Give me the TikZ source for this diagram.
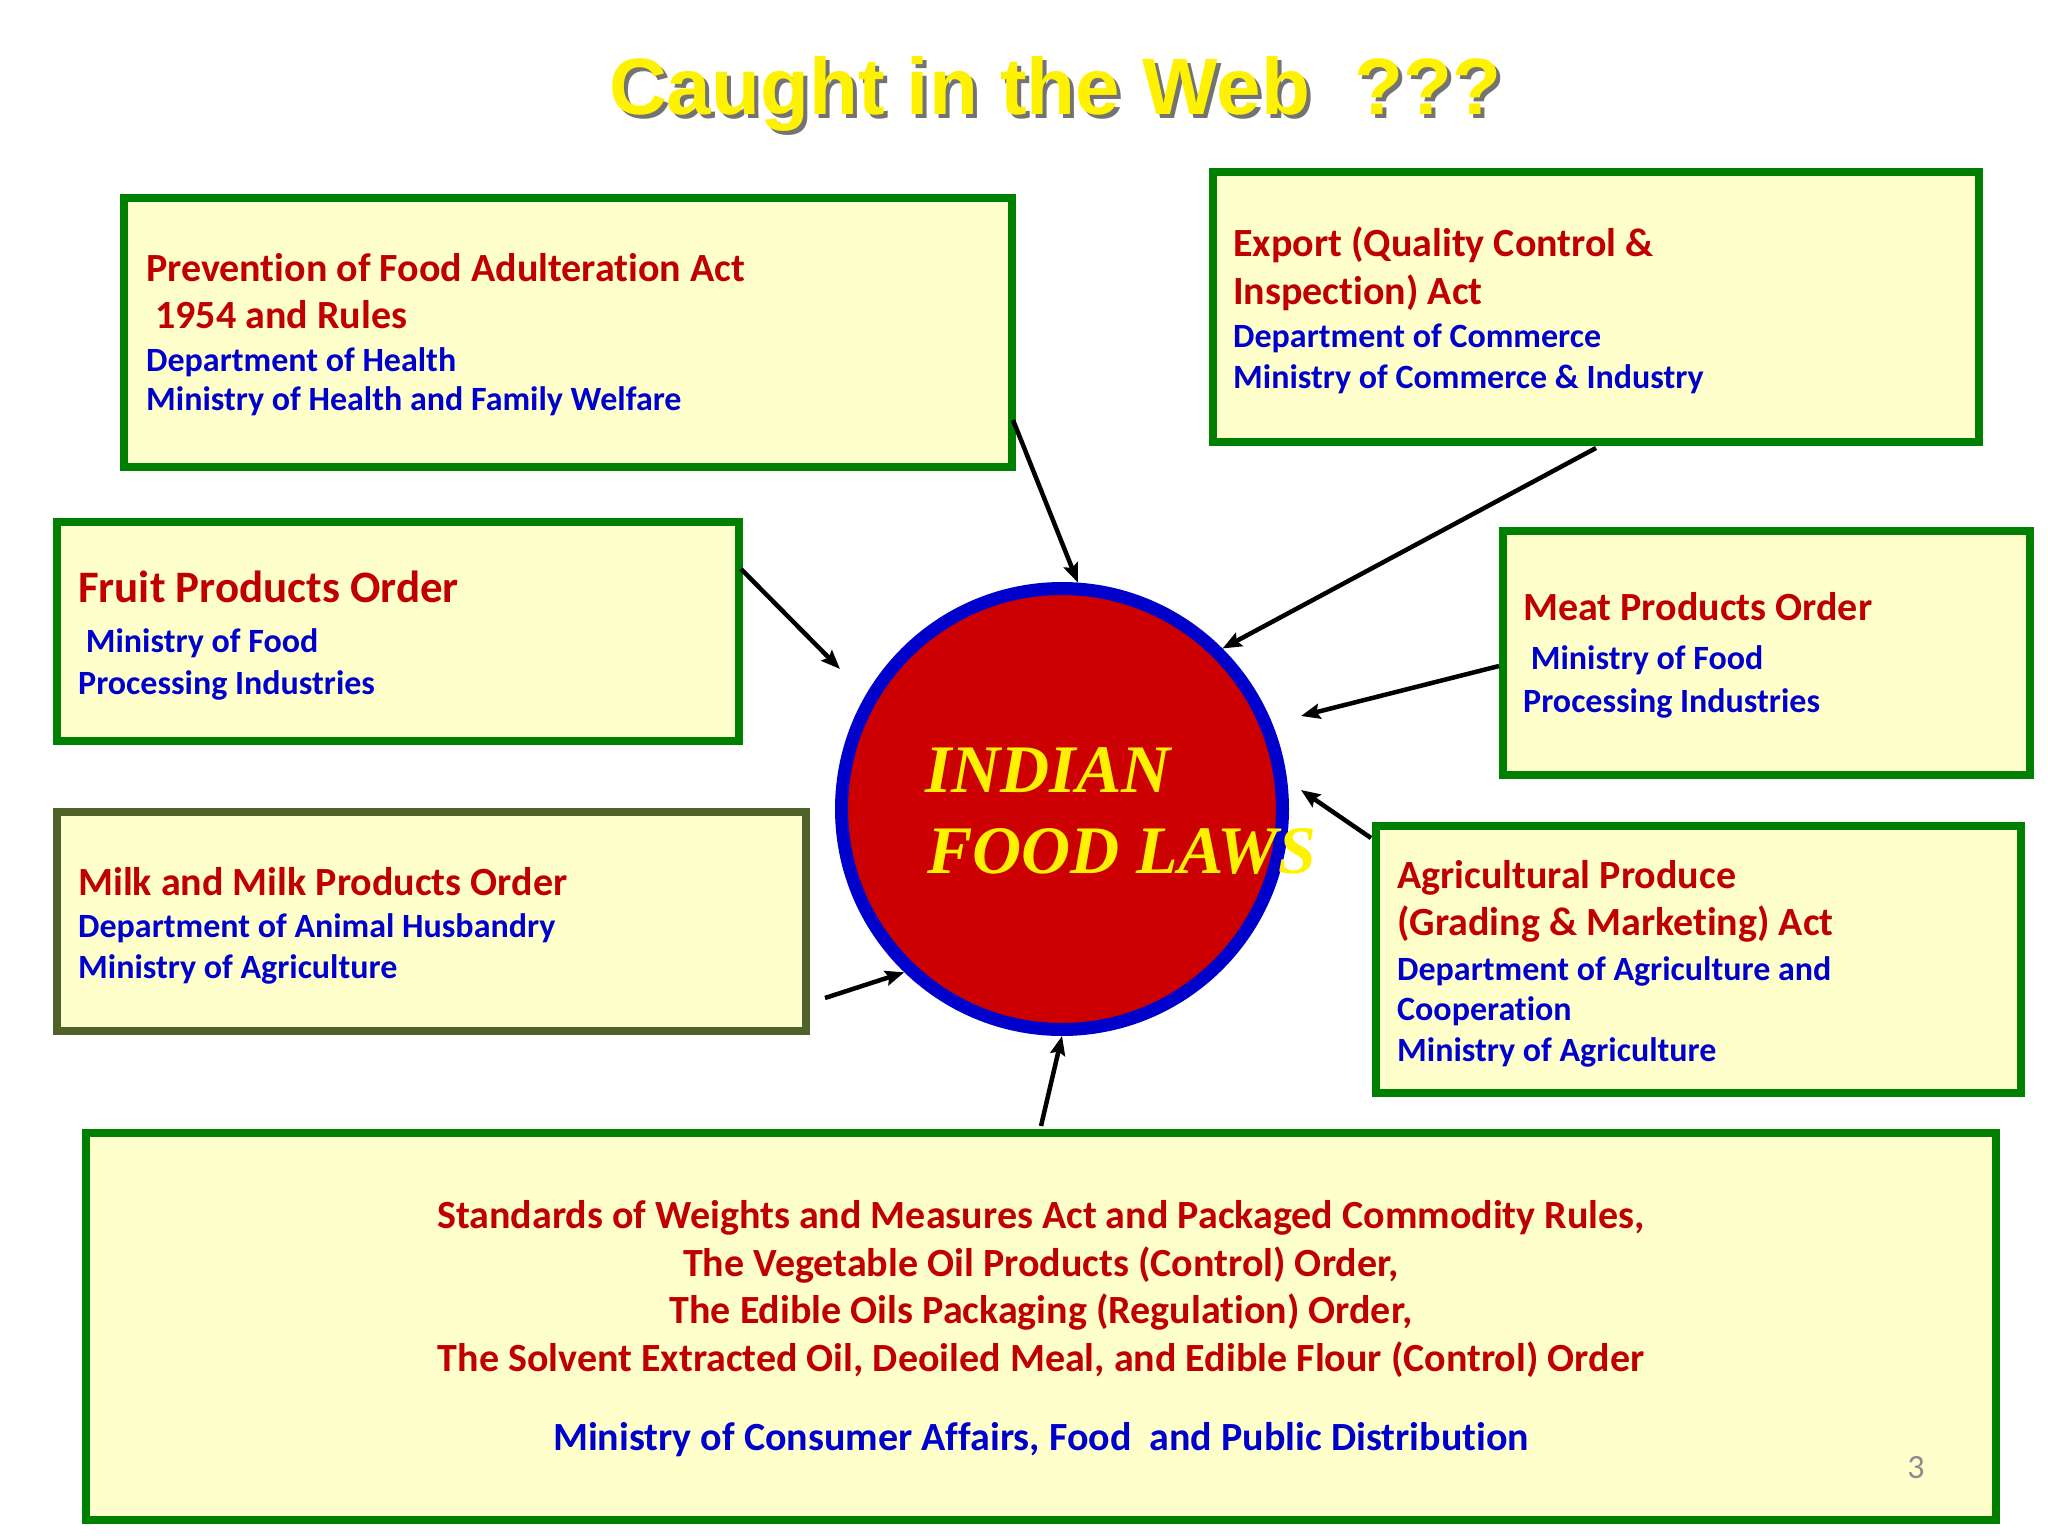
\documentclass[tikz,border=0pt]{standalone}
\usepackage{fontspec}
\setmainfont{Carlito}[Ligatures={NoCommon,NoContextual}, RawFeature={-liga;-dlig;-clig}]
\newfontfamily\titlefont{Liberation Sans}
\newfontfamily\serifbi{Liberation Serif}
\usetikzlibrary{arrows.meta}
\definecolor{boxfill}{HTML}{FFFFCC}
\definecolor{boxgreen}{HTML}{008000}
\definecolor{boxolive}{HTML}{4F6228}
\definecolor{redtxt}{HTML}{C00000}
\definecolor{bluetxt}{HTML}{0000CC}
\definecolor{cred}{HTML}{CC0000}
\definecolor{cblue}{HTML}{0000CC}
\definecolor{pgnum}{HTML}{8C8C8C}
\tikzset{
  lawbox/.style={draw=boxgreen, fill=boxfill, line width=8pt, inner sep=0pt, rectangle},
  redline/.style={anchor=base west, inner sep=0pt, text=redtxt, font=\fontsize{40}{48}\selectfont\bfseries},
  bigred/.style={redline, font=\fontsize{45}{54}\selectfont\bfseries},
  blueline/.style={anchor=base west, inner sep=0pt, text=bluetxt, font=\fontsize{34}{40}\selectfont\bfseries},
  centred/.style={anchor=base, inner sep=0pt, text=redtxt, font=\fontsize{40}{48}\selectfont\bfseries},
  centblue/.style={centred, text=bluetxt},
  circtext/.style={anchor=base west, inner sep=0pt, text=yellow, font=\serifbi\bfseries\itshape\fontsize{68}{82}\selectfont},
  arr/.style={draw=black, line width=4.5pt, -{Stealth[length=19pt,width=15pt,inset=3pt]}}
}
\begin{document}
\begin{tikzpicture}[x=1pt, y=-1pt]
\useasboundingbox[fill=white] (0,0) rectangle (2048,1536);
% title
\node[anchor=base, inner sep=0pt, text=black!55, font=\titlefont\bfseries\fontsize{80}{96}\selectfont] (titleshadow) at (1059,119) {Caught in the Web\ \ ???};
\node[anchor=base, inner sep=0pt, text=yellow, font=\titlefont\bfseries\fontsize{80}{96}\selectfont] (title) at (1055,115) {Caught in the Web\ \ ???};

% boxes
\node[lawbox, minimum width=888pt, minimum height=269pt] (b1) at (568,332.5) {};
\node[lawbox, minimum width=766pt, minimum height=270pt] (b2) at (1596,307) {};
\node[lawbox, minimum width=682pt, minimum height=219pt] (b3) at (398,631.5) {};
\node[lawbox, minimum width=527pt, minimum height=244pt] (b4) at (1766.5,653) {};
\node[lawbox, draw=boxolive, minimum width=749pt, minimum height=219pt] (b5) at (431.5,921.5) {};
\node[lawbox, minimum width=645pt, minimum height=267pt] (b6) at (1698.5,959.5) {};
\node[lawbox, minimum width=1910pt, minimum height=387pt] (b7) at (1041,1326.5) {};

% circle
\node[circle, draw=cblue, fill=cred, line width=13pt, minimum size=441pt, inner sep=0pt] (circ) at (1062,809) {};
\node[circtext] (ct1) at (925,792) {INDIAN};
\node[circtext] (ct2) at (927,873) {FOOD LAWS};

% box 1 text
\node[redline] (t1a) at (146,281) {Prevention of Food Adulteration Act};
\node[redline] (t1b) at (146,328) {\ 1954 and Rules};
\node[blueline] (t1c) at (146,371) {Department of Health};
\node[blueline] (t1d) at (146,410) {Ministry of Health and Family Welfare};

% box 2 text
\node[redline] (t2a) at (1233,256) {Export (Quality Control \&};
\node[redline] (t2b) at (1233,304) {Inspection) Act};
\node[blueline] (t2c) at (1233,347) {Department of Commerce};
\node[blueline] (t2d) at (1233,388) {Ministry of Commerce \& Industry};

% box 3 text
\node[bigred] (t3a) at (78,602) {Fruit Products Order};
\node[blueline] (t3b) at (78,652) {\ Ministry of Food};
\node[blueline] (t3c) at (78,694) {Processing Industries};

% box 4 text
\node[redline] (t4a) at (1523,620) {Meat Products Order};
\node[blueline] (t4b) at (1523,669) {\ Ministry of Food};
\node[blueline] (t4c) at (1523,712) {Processing Industries};

% box 5 text
\node[redline] (t5a) at (78,895) {Milk and Milk Products Order};
\node[blueline] (t5b) at (78,937) {Department of Animal Husbandry};
\node[blueline] (t5c) at (78,978) {Ministry of Agriculture};

% box 6 text
\node[redline] (t6a) at (1397,888) {Agricultural Produce};
\node[redline] (t6b) at (1397,935) {(Grading \& Marketing) Act};
\node[blueline] (t6c) at (1397,980) {Department of Agriculture and};
\node[blueline] (t6d) at (1397,1020) {Cooperation};
\node[blueline] (t6e) at (1397,1061) {Ministry of Agriculture};

% box 7 text
\node[centred] (t7a) at (1041,1228) {Standards of Weights and Measures Act and Packaged Commodity Rules,};
\node[centred] (t7b) at (1041,1276) {The Vegetable Oil Products (Control) Order,};
\node[centred] (t7c) at (1041,1323) {The Edible Oils Packaging (Regulation) Order,};
\node[centred] (t7d) at (1041,1371) {The Solvent Extracted Oil, Deoiled Meal, and Edible Flour (Control) Order};
\node[centblue] (t7e) at (1041,1450) {Ministry of Consumer Affairs, Food\ \ and Public Distribution};
\node[anchor=base, inner sep=0pt, text=pgnum, font=\fontsize{34}{40}\selectfont] (pg) at (1916,1478) {3};

% arrow end points
\coordinate (s1) at (1013,420);
\coordinate (s2) at (1596,448);
\coordinate (s3) at (741,569);
\coordinate (e3) at (840,669);
\coordinate (s4) at (1499,666);
\coordinate (e4) at (1301,716);
\coordinate (s5) at (1371,838);
\coordinate (e5) at (1301,790);
\coordinate (s6) at (825,998);
\coordinate (s7) at (1041,1126);

\draw[arr] (s1) -- (circ.86);
\draw[arr] (s2) -- (circ.45);
\draw[arr] (s3) -- (e3);
\draw[arr] (s4) -- (e4);
\draw[arr] (s5) -- (e5);
\draw[arr] (s6) -- (circ.226);
\draw[arr] (s7) -- (circ.270);
\end{tikzpicture}
\end{document}
